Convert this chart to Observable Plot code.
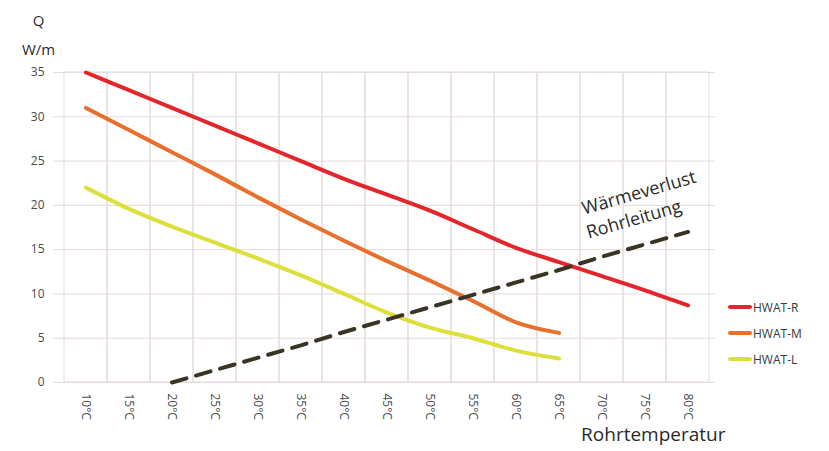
<!DOCTYPE html>
<html>
<head>
<meta charset="utf-8">
<script src="https://cdn.jsdelivr.net/npm/d3@7"></script>
<script src="https://cdn.jsdelivr.net/npm/@observablehq/plot@0.6"></script>
<style>
  html, body { margin: 0; padding: 0; background: #fff; }
  #wrap { position: relative; width: 829px; height: 451px; }
  #legend { position: absolute; left: 728px; top: 294px; font-family: "Open Sans", sans-serif; font-size: 12px; color: #3a3a3a; }
  #legend div { display: flex; align-items: center; height: 26px; }
  #legend span.sw { display: inline-block; width: 24px; height: 4px; margin-right: 1px; border-radius: 2px; }
</style>
</head>
<body>
<div id="wrap"><div id="legend"></div></div>
<script>
const temps = ["10°C","15°C","20°C","25°C","30°C","35°C","40°C","45°C","50°C","55°C","60°C","65°C","70°C","75°C","80°C"];
const hwatR = [35, 33, 31, 29, 27, 25, 23, 21.2, 19.4, 17.3, 15.2, 13.6, 12.0, 10.4, 8.7];
const tempsM = ["10°C","15°C","20°C","25°C","30°C","35°C","40°C","45°C","50°C","55°C","60°C","65°C"];
const hwatM = [31, 28.5, 26, 23.5, 20.9, 18.4, 16.0, 13.7, 11.5, 9.2, 6.8, 5.6];
const hwatL = [22, 19.6, 17.6, 15.8, 14.0, 12.1, 10.0, 7.9, 6.2, 5.0, 3.6, 2.7];
const tempsLoss = ["20°C","25°C","30°C","35°C","40°C","45°C","50°C","55°C","60°C","65°C","70°C","75°C","80°C"];
const loss = [0, 1.4, 2.8, 4.2, 5.7, 7.1, 8.5, 9.9, 11.3, 12.7, 14.2, 15.6, 17.0];
const yTicks = [0, 5, 10, 15, 20, 25, 30, 35];

const series = [
  {name: "HWAT-R", temps: temps, values: hwatR, color: "#e3262b"},
  {name: "HWAT-M", temps: tempsM, values: hwatM, color: "#e8702c"},
  {name: "HWAT-L", temps: tempsM, values: hwatL, color: "#dde03a"}
];
const rows = series.flatMap(s => s.values.map((v, i) => ({name: s.name, t: s.temps[i], v})));
const lossRows = loss.map((v, i) => ({t: tempsLoss[i], v}));

const font = "'Open Sans', sans-serif";
const grid = "#e6dada";
const chart = Plot.plot({
  width: 829,
  height: 451,
  marginLeft: 58,
  marginRight: 114,
  marginTop: 72,
  marginBottom: 69,
  style: {fontFamily: font, fontSize: "12px", color: "#4a4a4a", background: "transparent"},
  x: {type: "band", domain: temps, padding: 0, label: null, tickSize: 0, tickPadding: 11, tickRotate: 90},
  y: {domain: [0, 35], ticks: yTicks, label: null, tickSize: 0, tickPadding: 14},
  color: {domain: series.map(s => s.name), range: series.map(s => s.color)},
  marks: [
    Plot.ruleY(yTicks, {stroke: grid, strokeWidth: 1, insetLeft: -5}),
    Plot.cell(temps, {x: d => d, fill: "none", stroke: grid, strokeWidth: 1}),
    Plot.line(rows, {x: "t", y: "v", z: "name", stroke: "name", strokeWidth: 4, curve: "monotone-x", strokeLinecap: "round"}),
    Plot.line(lossRows, {x: "t", y: "v", stroke: "#3a3424", strokeWidth: 4, strokeDasharray: "15,10", curve: "linear"}),
    Plot.text(["Wärmeverlust"], {x: () => "75°C", y: () => 21.4, dx: -6, text: d => d, rotate: -16, fontSize: 18, fill: "#2a2a2a", fontFamily: font}),
    Plot.text(["Rohrleitung"], {x: () => "75°C", y: () => 18.4, dx: -11, text: d => d, rotate: -16, fontSize: 18, fill: "#2a2a2a", fontFamily: font}),
    Plot.text(["Q\nW/m"], {frameAnchor: "top-left", dx: -20, dy: -41, text: d => d, lineHeight: 1.9, lineAnchor: "middle", textAnchor: "middle", fontSize: 15, fill: "#2a2a2a", fontFamily: font}),
    Plot.text(["Rohrtemperatur"], {frameAnchor: "bottom-right", dx: 10, dy: 58, text: d => d, textAnchor: "end", fontSize: 19, fill: "#2a2a2a", fontFamily: font})
  ]
});
document.getElementById("wrap").prepend(chart);
const legend = document.getElementById("legend");
for (const s of series) {
  const row = document.createElement("div");
  row.innerHTML = `<span class="sw" style="background:${s.color}"></span>${s.name}`;
  legend.appendChild(row);
}
</script>
</body>
</html>
